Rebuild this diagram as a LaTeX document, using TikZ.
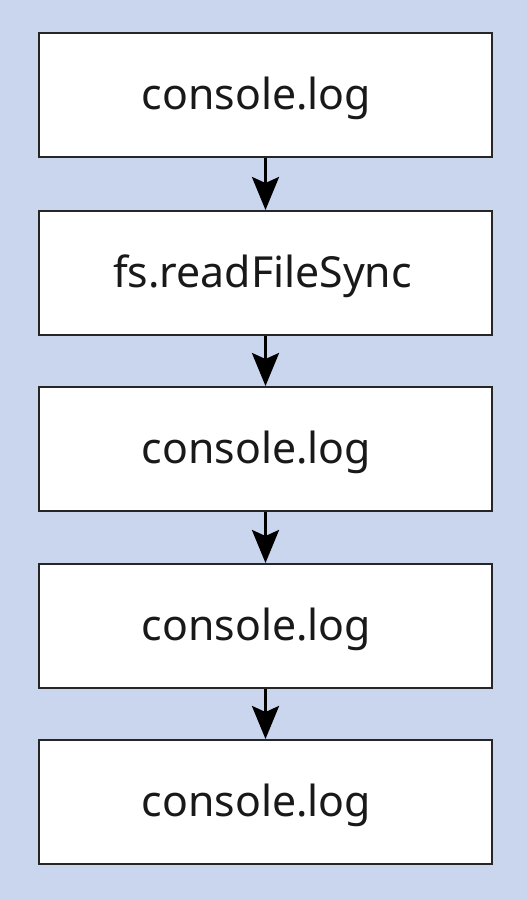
\documentclass[tikz,border=0pt]{standalone}
\usepackage{fontspec}
\setmainfont{Noto Sans}
\usetikzlibrary{arrows.meta}
\definecolor{bgblue}{HTML}{C9D6EE}
\begin{document}
\begin{tikzpicture}[x=1pt,y=-1pt,
  stepbox/.style={draw=black!85, line width=2pt, fill=white, minimum width=453pt, minimum height=124pt, inner sep=0pt},
  steptext/.style={inner sep=0pt, yshift=-3pt, font=\fontsize{42.8}{50}\selectfont, text=black!90},
  flow/.style={line width=3pt, -{Stealth[length=33pt,width=27pt,inset=6pt]}}]
\fill[bgblue] (0,0) rectangle (527,900);
\useasboundingbox (0,0) rectangle (527,900);
\node[stepbox] (s1) at (265.5,95) {};
\node[stepbox] (s2) at (265.5,273) {};
\node[stepbox] (s3) at (265.5,449) {};
\node[stepbox] (s4) at (265.5,626) {};
\node[stepbox] (s5) at (265.5,802) {};
\node[steptext, xshift=-9pt] (t1) at (s1) {console.log};
\node[steptext, xshift=-3pt] (t2) at (s2) {fs.readFileSync};
\node[steptext, xshift=-9pt] (t3) at (s3) {console.log};
\node[steptext, xshift=-9pt] (t4) at (s4) {console.log};
\node[steptext, xshift=-9pt] (t5) at (s5) {console.log};
\draw[flow] (s1) -- (s2);
\draw[flow] (s2) -- (s3);
\draw[flow] (s3) -- (s4);
\draw[flow] (s4) -- (s5);
\end{tikzpicture}
\end{document}
